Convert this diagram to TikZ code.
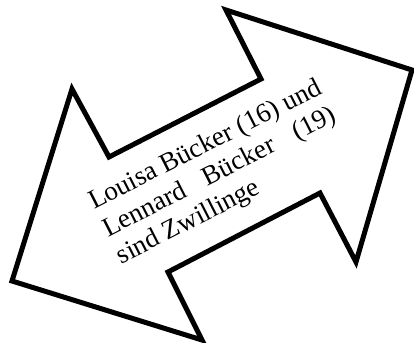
\documentclass[tikz,border=0pt]{standalone}
\usepackage{fontspec}
\setmainfont{Liberation Serif}
\tikzset{
  arrowshape/.style={draw=black, line width=5pt, line join=miter, fill=white},
  label/.style={rotate=27, anchor=base west, inner sep=0pt, font=\fontsize{27}{30.5}\selectfont}
}
\begin{document}
\begin{tikzpicture}[x=1pt,y=-1pt]
\useasboundingbox (0,0) rectangle (414,342);
\coordinate (lt) at (12,281);
\coordinate (lb1) at (72,89);
\coordinate (n1) at (109,157);
\coordinate (n2) at (261,79);
\coordinate (rb1) at (226,10);
\coordinate (rt) at (412,70);
\coordinate (rb2) at (356,262);
\coordinate (n3) at (320,193);
\coordinate (n4) at (168,272);
\coordinate (lb2) at (202,340);
\draw[arrowshape] (lt) -- (lb1) -- (n1) -- (n2) -- (rb1) -- (rt) -- (rb2) -- (n3) -- (n4) -- (lb2) -- cycle;
\node[label] (txt) at (94,210) {\setbox0\hbox{Louisa Bücker (16) und}\vtop{\hbox to\wd0{Louisa Bücker (16) und}\hbox to\wd0{Lennard\hfill Bücker\hfill (19)}\hbox{sind Zwillinge}}};
\end{tikzpicture}
\end{document}
